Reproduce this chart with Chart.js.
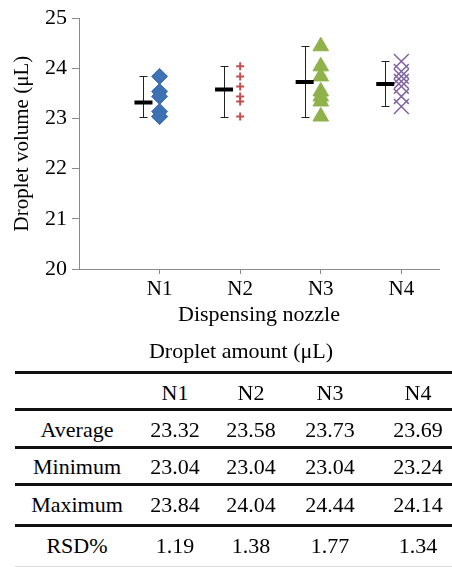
<!DOCTYPE html>
<html>
<head>
<meta charset="utf-8">
<script src="https://cdn.jsdelivr.net/npm/chart.js@4/dist/chart.umd.min.js"></script>
<style>
  html, body { margin: 0; padding: 0; background: #fff; }
  #wrap { position: relative; width: 452px; height: 567px; overflow: hidden; font-family: "Liberation Serif", "Times New Roman", serif; color: #000; }
  #chart { position: absolute; left: 0; top: 0; }
  .cell { position: absolute; height: 30px; line-height: 30px; font-size: 22px; text-align: center; white-space: nowrap; }
  .rule { position: absolute; left: 15px; right: 0; height: 3px; background: #111; }
</style>
</head>
<body>
<div id="wrap">
  <canvas id="chart" width="452" height="340"></canvas>
</div>
<script>
// データ
var categories = ['N1', 'N2', 'N3', 'N4'];
var n1Values = [23.84, 23.54, 23.44, 23.14, 23.04, 23.04];
var n2Values = [24.04, 23.84, 23.64, 23.44, 23.34, 23.04];
var n3Values = [24.44, 24.04, 23.84, 23.54, 23.44, 23.34, 23.04];
var n4Values = [24.14, 23.94, 23.84, 23.74, 23.64, 23.44, 23.24];
var averages = [23.32, 23.58, 23.73, 23.69];
var minimums = [23.04, 23.04, 23.04, 23.24];
var maximums = [23.84, 24.04, 24.44, 24.14];
var rsdValues = ['1.19', '1.38', '1.77', '1.34'];
var yTicks = [20, 21, 22, 23, 24, 25];
var tableTitle = 'Droplet amount (μL)';
var rowLabels = ['Average', 'Minimum', 'Maximum', 'RSD%'];

var serif = '"Liberation Serif", "Times New Roman", serif';
var axisGray = '#8a8a8a';
var barShift = 0.2;

function pts(vals, i) {
  return vals.map(function(v) { return {x: i + 1, y: v}; });
}

// エラーバー（最小〜最大）
var errorBars = {
  id: 'errorBars',
  beforeDatasetsDraw: function(chart) {
    var xs = chart.scales.x, ys = chart.scales.y, ctx = chart.ctx;
    ctx.save();
    ctx.strokeStyle = '#222';
    ctx.lineWidth = 1;
    for (let i = 0; i < categories.length; i++) {
      var x = Math.round(xs.getPixelForValue(i + 1 - barShift)) + 0.5;
      var y0 = Math.round(ys.getPixelForValue(minimums[i])) + 0.5;
      var y1 = Math.round(ys.getPixelForValue(maximums[i])) + 0.5;
      ctx.beginPath();
      ctx.moveTo(x, y0); ctx.lineTo(x, y1);
      ctx.moveTo(x - 4, y0); ctx.lineTo(x + 4, y0);
      ctx.moveTo(x - 4, y1); ctx.lineTo(x + 4, y1);
      ctx.stroke();
    }
    ctx.restore();
  }
};

document.addEventListener('DOMContentLoaded', function() {
  var ctx = document.querySelector('#chart').getContext('2d');
  new Chart(ctx, {
    type: 'scatter',
    data: {
      datasets: [{
        data: averages.map(function(v, i) { return {x: i + 1 - barShift, y: v}; }),
        pointStyle: 'line', pointRadius: 9, borderWidth: 4,
        borderColor: '#000', backgroundColor: '#000', order: 0
      }, {
        data: pts(n1Values, 0),
        pointStyle: 'rectRot', pointRadius: 8, borderWidth: 1,
        borderColor: '#3a6db0', backgroundColor: '#3f72b5', order: 1
      }, {
        data: pts(n2Values, 1),
        pointStyle: 'cross', pointRadius: 4, borderWidth: 2,
        borderColor: '#c0504d', backgroundColor: '#c0504d', order: 1
      }, {
        data: pts(n3Values, 2),
        pointStyle: 'triangle', pointRadius: 9, borderWidth: 1,
        borderColor: '#8db14a', backgroundColor: '#8fb24b', order: 1
      }, {
        data: pts(n4Values, 3),
        pointStyle: 'crossRot', pointRadius: 10.5, borderWidth: 1.5,
        borderColor: '#7f63a1', backgroundColor: '#7f63a1', order: 1
      }]
    },
    options: {
      responsive: false,
      animation: false,
      layout: { padding: { top: 16, right: 0, left: 0, bottom: 0 } },
      plugins: { legend: { display: false }, tooltip: { enabled: false } },
      scales: {
        x: {
          type: 'linear',
          min: 0,
          max: 373 / 83.5,
          afterBuildTicks: function(scale) {
            scale.ticks = categories.map(function(c, i) { return {value: i + 1}; });
          },
          afterFit: function(scale) { scale.height = 71; },
          ticks: {
            callback: function(v) { return categories[v - 1]; },
            font: { family: serif, size: 21 },
            color: '#000',
            padding: 3,
            maxRotation: 0
          },
          grid: { drawOnChartArea: false, tickLength: 5, color: axisGray },
          border: { color: axisGray },
          title: {
            display: true,
            text: 'Dispensing nozzle',
            font: { family: serif, size: 22 },
            color: '#000',
            padding: { top: 0, bottom: 12 }
          }
        },
        y: {
          min: 20,
          max: 25,
          afterBuildTicks: function(scale) {
            scale.ticks = yTicks.map(function(v) { return {value: v}; });
          },
          afterFit: function(scale) { scale.width = 79; },
          ticks: {
            font: { family: serif, size: 22 },
            color: '#000',
            padding: 5
          },
          grid: { drawOnChartArea: false, tickLength: 7, color: axisGray },
          border: { color: axisGray },
          title: {
            display: true,
            text: 'Droplet volume (μL)',
            font: { family: serif, size: 21 },
            color: '#000',
            padding: { top: 10, bottom: 0 }
          }
        }
      }
    },
    plugins: [errorBars]
  });

  // 表
  var wrap = document.querySelector('#wrap');
  function cell(text, cx, cy, w) {
    var d = document.createElement('div');
    d.className = 'cell';
    d.textContent = text;
    d.style.left = (cx - w / 2) + 'px';
    d.style.width = w + 'px';
    d.style.top = (cy - 15) + 'px';
    wrap.appendChild(d);
  }
  function rule(y) {
    var d = document.createElement('div');
    d.className = 'rule';
    d.style.top = (y - 1) + 'px';
    wrap.appendChild(d);
  }
  var colX = [77, 175, 251, 330, 418];
  var rowY = [393, 430, 467, 505, 546];
  cell(tableTitle, 241, 351, 300);
  [372, 409, 447, 484, 525].forEach(rule);
  var last = document.createElement('div');
  last.style.cssText = 'position:absolute;left:15px;right:0;top:566px;height:1px;background:#ddd;';
  wrap.appendChild(last);
  categories.forEach(function(c, j) { cell(c, colX[j + 1], rowY[0], 80); });
  var rows = [
    averages.map(function(v) { return v.toFixed(2); }),
    minimums.map(function(v) { return v.toFixed(2); }),
    maximums.map(function(v) { return v.toFixed(2); }),
    rsdValues
  ];
  rows.forEach(function(r, i) {
    cell(rowLabels[i], colX[0], rowY[i + 1], 120);
    r.forEach(function(v, j) { cell(v, colX[j + 1], rowY[i + 1], 80); });
  });
});
</script>
</body>
</html>
